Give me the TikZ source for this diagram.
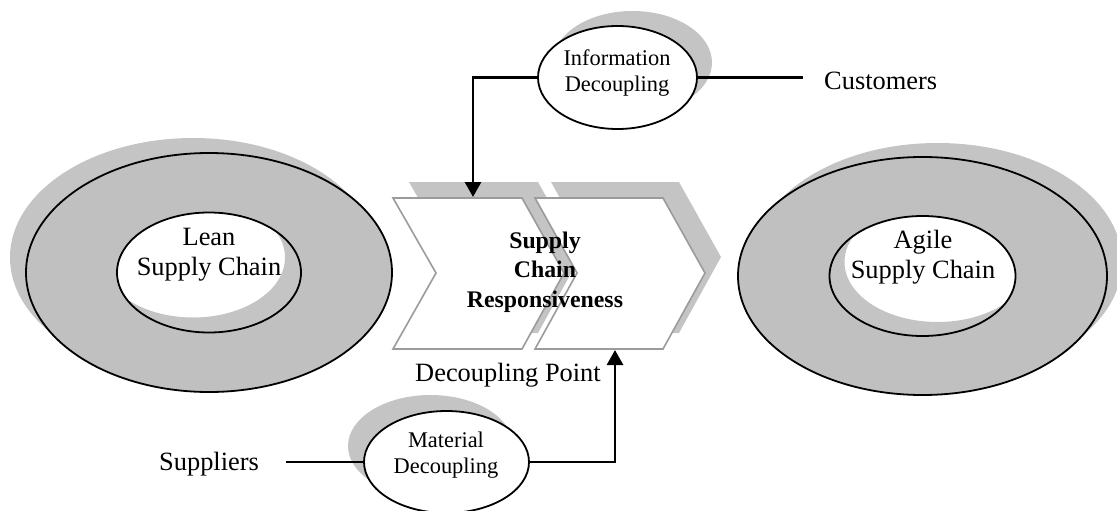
\documentclass[tikz,border=0pt]{standalone}
\usepackage{fontspec}
\setmainfont{Liberation Serif}
\usetikzlibrary{shapes.geometric,arrows.meta,calc}
\definecolor{ringgray}{RGB}{192,192,192}
\definecolor{shadgray}{RGB}{196,196,196}
\definecolor{chevgray}{RGB}{155,155,155}
\tikzset{
  ringline/.style={ellipse,draw=black,line width=1.8pt,inner sep=0pt,outer sep=0pt},
  smallell/.style={ellipse,draw=black,fill=white,line width=1.8pt,inner sep=0pt,outer sep=0pt},
  chevbox/.style={draw=chevgray,fill=white,line width=1.6pt,line join=miter},
  conn/.style={draw=black,line width=2.8pt},
  arr/.style={-{Triangle[width=16pt,length=15pt]}},
  bigtxt/.style={font=\fontsize{26.4}{30}\selectfont,align=center,inner sep=0pt},
  smalltxt/.style={font=\fontsize{22.4}{26}\selectfont,align=center,inner sep=0pt},
  boldtxt/.style={font=\fontsize{23.8}{29.5}\selectfont\bfseries,align=center,inner sep=0pt},
}
\begin{document}
\begin{tikzpicture}[x=1pt,y=-1pt]
\useasboundingbox (0,0) rectangle (1117,511);
% ---------- left donut ----------
\coordinate (lc) at (209,272.5);
\fill[shadgray,even odd rule] ($(lc)+(-16,-15)$) ellipse[x radius=183pt,y radius=119.5pt]
      ($(lc)+(-16,-15)$) ellipse[x radius=92pt,y radius=60pt];
\fill[ringgray,even odd rule] (lc) ellipse[x radius=183pt,y radius=119.5pt]
      (lc) ellipse[x radius=92pt,y radius=60pt];
\node[ringline,minimum width=366pt,minimum height=239pt] (leanouter) at (lc) {};
\node[ringline,minimum width=184pt,minimum height=120pt] (leaninner) at (lc) {};
\node[bigtxt] (leantxt) at (209,255) {Lean\\Supply Chain};
% ---------- right donut ----------
\coordinate (rc) at (922.5,276);
\fill[shadgray,even odd rule] ($(rc)+(15,-14)$) ellipse[x radius=184.5pt,y radius=119pt]
      ($(rc)+(15,-14)$) ellipse[x radius=93pt,y radius=60pt];
\fill[ringgray,even odd rule] (rc) ellipse[x radius=184.5pt,y radius=119pt]
      (rc) ellipse[x radius=93pt,y radius=60pt];
\node[ringline,minimum width=369pt,minimum height=238pt] (agileouter) at (rc) {};
\node[ringline,minimum width=186pt,minimum height=120pt] (agileinner) at (rc) {};
\node[bigtxt] (agiletxt) at (923,257) {Agile\\Supply Chain};
% ---------- chevrons ----------
\fill[shadgray] (409,182) -- (538,182) -- (580,257) -- (538,333) -- (409,333) -- (452,257) -- cycle;
\fill[shadgray] (551,182) -- (679,182) -- (721,257) -- (679,333) -- (551,333) -- (593,257) -- cycle;
\path[chevbox] (393,198) -- (522,198) -- (564,273) -- (522,349) -- (393,349) -- (436,273) -- cycle;
\path[chevbox] (535,198) -- (663,198) -- (705,273) -- (663,349) -- (535,349) -- (577,273) -- cycle;
\coordinate (ch1top) at (473,197);
\coordinate (ch2bot) at (615,350);
\node[boldtxt] (resp) at (545,272) {Supply\\Chain\\Responsiveness};
\node[bigtxt,anchor=base] (dpoint) at (508,381) {Decoupling Point};
% ---------- information decoupling ----------
\coordinate (ic) at (617.5,77.5);
\fill[shadgray] ($(ic)+(15,-15)$) ellipse[x radius=79.5pt,y radius=51.5pt];
\coordinate (custend) at (803,79);
\node[smallell,minimum width=159pt,minimum height=103pt] (infodec) at (ic) {};
\node[smalltxt] (infotxt) at (617,73) {Information\\Decoupling};
\draw[conn] (infodec.east) -- (custend |- infodec.east);
\draw[conn,arr] (infodec.west) -| (ch1top);
\node[bigtxt,anchor=base west] (customers) at (824,90) {Customers};
% ---------- material decoupling ----------
\coordinate (mc) at (446.5,462);
\fill[shadgray] ($(mc)+(-16,-16)$) ellipse[x radius=82.5pt,y radius=51pt];
\node[smallell,minimum width=165pt,minimum height=102pt] (matdec) at (mc) {};
\node[smalltxt] (mattxt) at (446,455) {Material\\Decoupling};
\coordinate (supend) at (286,462);
\draw[conn] (supend) -- (matdec.west);
\draw[conn,arr] (matdec.east) -| (ch2bot);
\node[bigtxt,anchor=base west] (suppliers) at (159,470) {Suppliers};
\end{tikzpicture}
\end{document}
